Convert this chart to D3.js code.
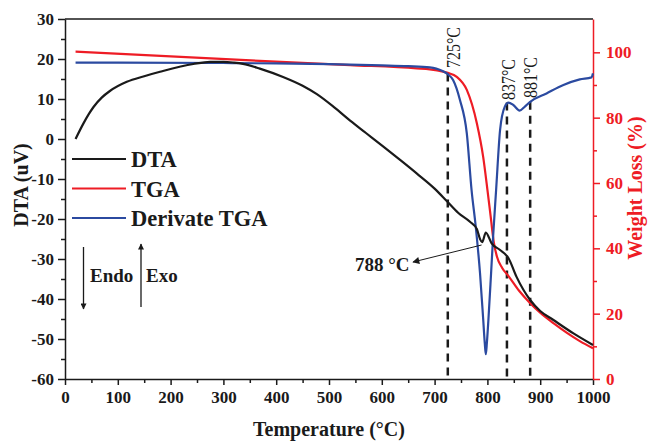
<!DOCTYPE html>
<html>
<head>
<meta charset="utf-8">
<script src="https://d3js.org/d3.v7.min.js"></script>
<style>
  body { margin: 0; background: #fff; }
  text { font-family: "Liberation Serif", "DejaVu Serif", serif; }
</style>
</head>
<body>
<svg id="chart" width="648" height="441"></svg>
<script>
"use strict";

// DTA curve (uV), left axis
var dtaTemp = [20, 35, 45, 54, 70, 85, 117, 150, 180, 243, 275, 300, 320, 337, 369, 413, 450, 477, 510, 540, 570, 603, 640, 666, 700, 723, 745, 767, 780, 786, 790, 797, 808, 824, 840, 855, 881, 900, 925, 963, 1000];
var dtaVal  = [0, 3.9, 6.2, 8.0, 10.4, 12.0, 14.3, 15.7, 16.8, 18.75, 19.3, 19.3, 19.1, 18.8, 17.6, 15.5, 13.3, 11.2, 7.9, 4.6, 1.5, -1.9, -5.8, -8.6, -12.4, -15.5, -18.5, -20.7, -22.5, -25, -25.8, -23.4, -26.1, -27.75, -29.8, -34.4, -40.25, -43, -45.25, -48.6, -51.5];

// TGA curve (weight %), right axis
var tgaTemp = [20, 369, 540, 666, 691, 716, 725, 742, 761, 780, 792, 800, 806, 812, 818, 828, 840, 860, 881, 900, 925, 950, 975, 1000];
var tgaVal  = [100.2, 97.4, 96.1, 95.1, 94.8, 94.1, 93.7, 92.5, 88.5, 78.3, 68, 58, 50, 42, 37.5, 34, 31.5, 27, 23.2, 20.3, 17.1, 14.2, 11.6, 9.4];

// Derivate TGA curve, drawn on the left axis
var dtgTemp = [20, 100, 300, 400, 500, 600, 650, 691, 703, 715, 725, 735, 748, 761, 770, 778, 786, 792, 795, 797, 799, 802, 807, 811, 816.5, 824, 833, 840, 849, 861, 871, 881, 912, 944, 975, 997, 1000];
var dtgVal  = [19.1, 19.1, 19.0, 18.9, 18.7, 18.4, 18.2, 17.9, 17.6, 17.0, 16.2, 14.75, 9.75, 1.4, -12.75, -22, -33.5, -45, -51, -53.8, -51, -45, -33.5, -24, -12.75, 2.25, 8.1, 9.1, 8.5, 7.1, 8.1, 9.3, 11.4, 13.5, 14.9, 15.4, 16.4];

var peakTemps = [725, 837, 881];
var peakLabels = ["725°C", "837°C", "881°C"];
var peakTops = [16.4, 9.1, 9.3];

var xTicks = [0, 100, 200, 300, 400, 500, 600, 700, 800, 900, 1000];
var yLeftTicks = [-60, -50, -40, -30, -20, -10, 0, 10, 20, 30];
var yRightTicks = [0, 20, 40, 60, 80, 100];

var legendNames = ["DTA", "TGA", "Derivate TGA"];
var legendColors = ["#1a1a1a", "#ee1c25", "#2b4aa0"];

function drawChart() {
  var svg = d3.select("#chart");

  var left = 65, right = 593, plotTop = 19, bottom = 379;

  var x = d3.scaleLinear().domain([0, 1000]).range([left, right]);
  var yL = d3.scaleLinear().domain([-60, 30]).range([bottom, plotTop]);
  var yR = d3.scaleLinear().domain([0, 110.2]).range([bottom, plotTop]);
  var plain = function (d) { return String(d); };

  function zip(a, b) {
    return a.map(function (t, i) { return [t, b[i]]; });
  }

  // top border
  svg.append("line")
    .attr("x1", left).attr("x2", right)
    .attr("y1", plotTop).attr("y2", plotTop)
    .style("stroke", "#1a1a1a").style("stroke-width", 1.5);

  // minor ticks
  function minorAxis(axis, g) {
    g.call(axis);
    g.selectAll("text").remove();
    g.select(".domain").remove();
  }

  var gxMinor = svg.append("g").attr("transform", "translate(0," + bottom + ")");
  minorAxis(d3.axisBottom(x).tickValues(d3.range(50, 1000, 100)).tickSize(4), gxMinor);
  var gyMinor = svg.append("g").attr("transform", "translate(" + left + ",0)");
  minorAxis(d3.axisLeft(yL).tickValues(d3.range(-55, 30, 10)).tickSize(4), gyMinor);
  var grMinor = svg.append("g").attr("transform", "translate(" + right + ",0)");
  minorAxis(d3.axisRight(yR).tickValues(d3.range(10, 110, 20)).tickSize(4), grMinor);

  // main axes
  var gx = svg.append("g").attr("transform", "translate(0," + bottom + ")")
    .call(d3.axisBottom(x).tickValues(xTicks).tickFormat(plain).tickSize(6).tickSizeOuter(0).tickPadding(6));
  var gy = svg.append("g").attr("transform", "translate(" + left + ",0)")
    .call(d3.axisLeft(yL).tickValues(yLeftTicks).tickFormat(plain).tickSize(7).tickSizeOuter(0).tickPadding(4));
  var gr = svg.append("g").attr("transform", "translate(" + right + ",0)")
    .call(d3.axisRight(yR).tickValues(yRightTicks).tickFormat(plain).tickSize(7).tickSizeOuter(0).tickPadding(6));

  [gx, gy, gr].forEach(function (g) {
    g.selectAll("text")
      .style("font-family", "'Liberation Serif', serif")
      .style("font-weight", "bold")
      .style("font-size", "17px")
      .style("fill", "#1a1a1a");
    g.selectAll("line, .domain").style("stroke", "#1a1a1a").style("stroke-width", 1.5);
  });
  gr.selectAll("text").style("fill", "#ee1c25");
  gr.selectAll("line, .domain").style("stroke", "#ee1c25");
  [gxMinor, gyMinor].forEach(function (g) {
    g.selectAll("line").style("stroke", "#1a1a1a").style("stroke-width", 1.5);
  });
  grMinor.selectAll("line").style("stroke", "#ee1c25").style("stroke-width", 1.5);

  // axis titles
  svg.append("text")
    .attr("transform", "translate(28,185) rotate(-90)")
    .attr("text-anchor", "middle")
    .style("font-weight", "bold").style("font-size", "20px")
    .style("fill", "#1a1a1a")
    .text("DTA (uV)");

  svg.append("text")
    .attr("transform", "translate(642,188) rotate(-90)")
    .attr("text-anchor", "middle")
    .style("font-weight", "bold").style("font-size", "20px")
    .style("fill", "#ee1c25")
    .text("Weight Loss (%)");

  svg.append("text")
    .attr("x", (left + right) / 2).attr("y", 436)
    .attr("text-anchor", "middle")
    .style("font-weight", "bold").style("font-size", "20px")
    .style("fill", "#1a1a1a")
    .text("Temperature (°C)");

  // dashed peak lines
  peakTemps.forEach(function (t, i) {
    svg.append("line")
      .attr("x1", x(t)).attr("x2", x(t))
      .attr("y1", yL(peakTops[i])).attr("y2", bottom)
      .style("stroke", "#1a1a1a").style("stroke-width", 2.5)
      .style("stroke-dasharray", "8,6");
  });

  // curves
  var lineL = d3.line()
    .x(function (d) { return x(d[0]); })
    .y(function (d) { return yL(d[1]); })
    .curve(d3.curveMonotoneX);
  var lineR = d3.line()
    .x(function (d) { return x(d[0]); })
    .y(function (d) { return yR(d[1]); })
    .curve(d3.curveMonotoneX);

  svg.append("path")
    .attr("d", lineR(zip(tgaTemp, tgaVal)))
    .style("fill", "none").style("stroke", legendColors[1]).style("stroke-width", 2.2);
  svg.append("path")
    .attr("d", lineL(zip(dtgTemp, dtgVal)))
    .style("fill", "none").style("stroke", legendColors[2]).style("stroke-width", 2.2);
  svg.append("path")
    .attr("d", lineL(zip(dtaTemp, dtaVal)))
    .style("fill", "none").style("stroke", legendColors[0]).style("stroke-width", 2.2);

  // peak labels
  var labelPos = [[460, 68], [515, 100], [537, 98]];
  peakLabels.forEach(function (lab, i) {
    svg.append("text")
      .attr("transform", "translate(" + labelPos[i][0] + "," + labelPos[i][1] + ") rotate(-90) scale(1,1.2)")
      .style("font-size", "16px")
      .style("fill", "#1a1a1a")
      .text(lab);
  });

  // 788 annotation
  var defs = svg.append("defs");
  defs.append("marker")
    .attr("id", "arrowHead")
    .attr("viewBox", "0 0 10 10")
    .attr("refX", 9).attr("refY", 5)
    .attr("markerWidth", 9).attr("markerHeight", 7)
    .attr("markerUnits", "userSpaceOnUse")
    .attr("orient", "auto")
    .append("path").attr("d", "M0,0 L10,5 L0,10 z").style("fill", "#1a1a1a");

  svg.append("line")
    .attr("x1", x(789)).attr("y1", yL(-26.5))
    .attr("x2", 413).attr("y2", 262)
    .style("stroke", "#1a1a1a").style("stroke-width", 1)
    .attr("marker-end", "url(#arrowHead)");
  svg.append("text")
    .attr("x", 355).attr("y", 271)
    .style("font-weight", "bold").style("font-size", "19px")
    .style("fill", "#1a1a1a")
    .text("788 °C");

  // legend
  legendNames.forEach(function (name, i) {
    var ly = 159 + i * 29.5;
    svg.append("line")
      .attr("x1", 72).attr("x2", 126)
      .attr("y1", ly).attr("y2", ly)
      .style("stroke", legendColors[i]).style("stroke-width", 2);
    svg.append("text")
      .attr("x", 131).attr("y", ly + 8)
      .style("font-weight", "bold").style("font-size", "22.5px")
      .style("fill", "#1a1a1a")
      .text(name);
  });

  // Endo / Exo arrows
  defs.append("marker")
    .attr("id", "bigHead")
    .attr("viewBox", "0 0 10 10")
    .attr("refX", 9).attr("refY", 5)
    .attr("markerWidth", 10).attr("markerHeight", 6)
    .attr("markerUnits", "userSpaceOnUse")
    .attr("orient", "auto")
    .append("path").attr("d", "M0,0 L10,5 L0,10 z").style("fill", "#1a1a1a");

  svg.append("line")
    .attr("x1", 83.5).attr("x2", 83.5).attr("y1", 247).attr("y2", 309)
    .style("stroke", "#1a1a1a").style("stroke-width", 1.3)
    .attr("marker-end", "url(#bigHead)");
  svg.append("line")
    .attr("x1", 141).attr("x2", 141).attr("y1", 307).attr("y2", 244)
    .style("stroke", "#1a1a1a").style("stroke-width", 1.3)
    .attr("marker-end", "url(#bigHead)");
  svg.append("text")
    .attr("x", 90).attr("y", 282)
    .style("font-weight", "bold").style("font-size", "19px")
    .style("fill", "#1a1a1a")
    .text("Endo");
  svg.append("text")
    .attr("x", 146).attr("y", 282)
    .style("font-weight", "bold").style("font-size", "19px")
    .style("fill", "#1a1a1a")
    .text("Exo");
}

drawChart();
</script>
</body>
</html>
